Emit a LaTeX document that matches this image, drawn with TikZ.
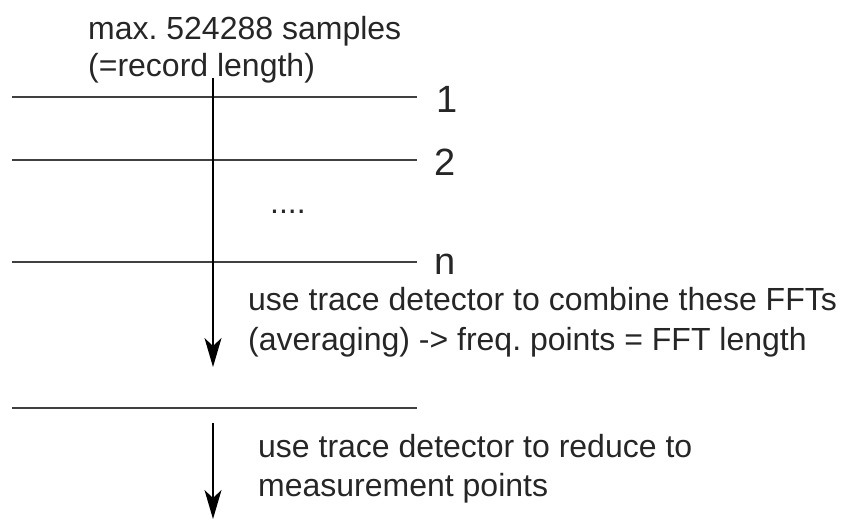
\documentclass[tikz,border=0pt]{standalone}
\usepackage{fontspec}
\setmainfont{Liberation Sans}
\usetikzlibrary{arrows.meta}
\begin{document}
\frenchspacing
\begin{tikzpicture}[x=1pt,y=-1pt,
  txt/.style={anchor=base west,inner sep=0pt,font=\fontsize{32}{36}\selectfont,text=black!85},
  lbl/.style={anchor=west,inner sep=0pt,font=\fontsize{38}{40}\selectfont,text=black!85},
  rowline/.style={line width=1.6pt,draw=black!75},
  flow/.style={line width=1.4pt,draw=black,-{Stealth[length=29pt,width=17pt,inset=8pt]}}]
\useasboundingbox (0,0) rectangle (845,521);
\node[txt] (t1) at (88,40) {max. 524288 samples};
\node[txt] (t2) at (88,77) {(=record length)};
\coordinate (l1a) at (12,97);  \coordinate (l1b) at (417,97);
\coordinate (l2a) at (12,160); \coordinate (l2b) at (417,160);
\coordinate (lna) at (12,262); \coordinate (lnb) at (417,262);
\coordinate (l4a) at (12,408); \coordinate (l4b) at (417,408);
\draw[rowline] (l1a) -- (l1b);
\draw[rowline] (l2a) -- (l2b);
\draw[rowline] (lna) -- (lnb);
\draw[rowline] (l4a) -- (l4b);
\node[lbl] (n1) at (436,99) {1};
\node[lbl] (n2) at (434,162) {2};
\node[lbl] (nn) at (434,264) {n};
\node[txt] (dots) at (270,214) {....};
\coordinate (a1s) at (213,78); \coordinate (a1e) at (213,367);
\draw[flow] (a1s) -- (a1e);
\node[txt] (t3) at (248,310) {use trace detector to combine these FFTs};
\node[txt] (t4) at (248,350) {(averaging) -> freq. points = FFT length};
\coordinate (a2s) at (213,423); \coordinate (a2e) at (213,519);
\draw[flow] (a2s) -- (a2e);
\node[txt] (t5) at (258,457) {use trace detector to reduce to};
\node[txt] (t6) at (258,496) {measurement points};
\end{tikzpicture}
\end{document}
